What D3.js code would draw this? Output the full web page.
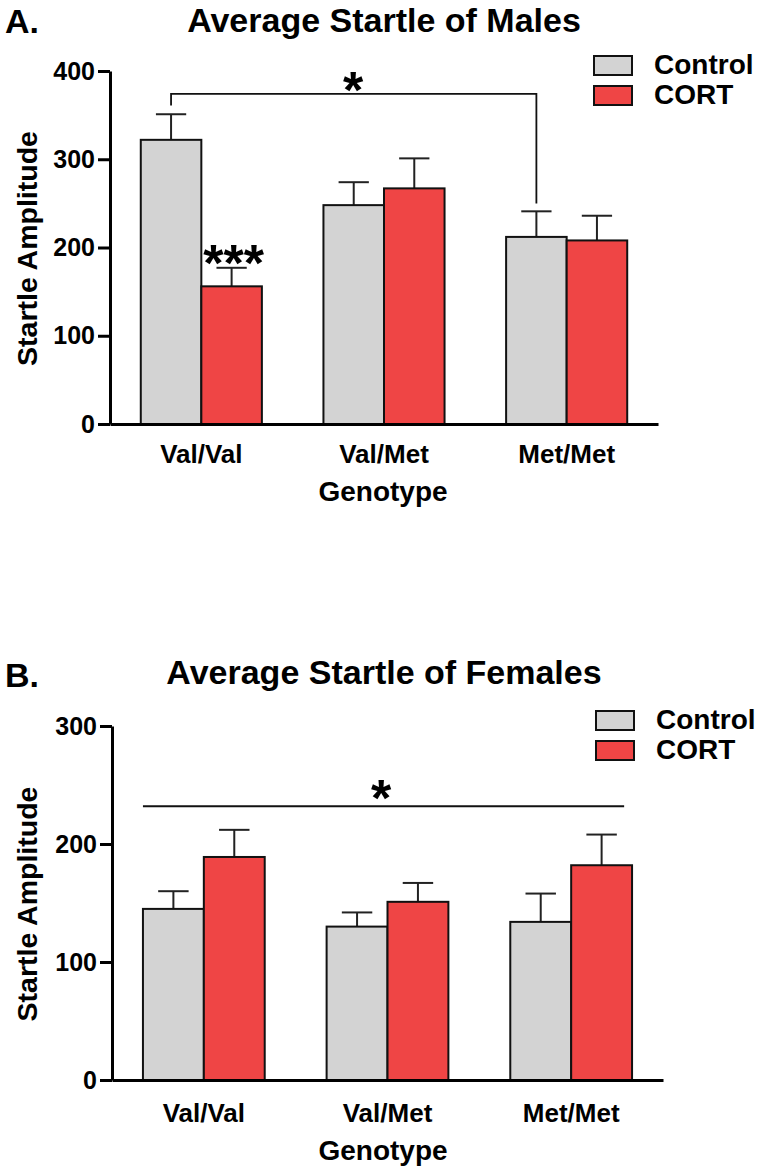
<!DOCTYPE html>
<html>
<head>
<meta charset="utf-8">
<script src="https://cdn.jsdelivr.net/npm/d3@7/dist/d3.min.js"></script>
<style>
  html, body { margin: 0; padding: 0; background: #fff; }
  svg { display: block; }
  text { font-family: "Liberation Sans", Arial, Helvetica, sans-serif; font-weight: bold; fill: #000; }
</style>
</head>
<body>
<svg id="chart" width="760" height="1168"></svg>
<script>
// ---------- data ----------
const genotypes = ["Val/Val", "Val/Met", "Met/Met"];
const groups = ["Control", "CORT"];
const groupColors = ["#d3d3d3", "#ef4545"];

const malesControl = [322, 248, 212];
const malesControlSem = [29, 26, 29];
const malesCort = [156, 267, 208];
const malesCortSem = [21, 34, 28];

const femalesControl = [145, 130, 134];
const femalesControlSem = [15, 12, 24];
const femalesCort = [189, 151, 182];
const femalesCortSem = [23, 16, 26];

const malesTicks = [0, 100, 200, 300, 400];
const femalesTicks = [0, 100, 200, 300];

// significance annotations (data units)
const malesBracket = { y: 374, leftEnd: 361, rightEnd: 250, from: "Val/Val", to: "Met/Met" };
const femalesLine = { y: 232 };

// ---------- drawing ----------
const svg = d3.select("#chart");
const color = d3.scaleOrdinal().domain(groups).range(groupColors);

function panel(cfg) {
  const g = svg.append("g");
  const x = d3.scaleBand().domain(genotypes).range([cfg.x0, cfg.x1])
    .paddingInner(0.337).paddingOuter(0.1685);
  const xs = d3.scaleBand().domain(groups).range([0, x.bandwidth()]).padding(0);
  const y = d3.scaleLinear().domain(cfg.domain).range([cfg.yBottom, cfg.yTop]);

  // titles
  g.append("text").attr("x", 5).attr("y", cfg.letterY).attr("font-size", 34).text(cfg.letter);
  g.append("text").attr("x", 384).attr("y", cfg.titleY).attr("font-size", 34)
    .attr("text-anchor", "middle").text(cfg.title);

  // bars
  const rows = [];
  genotypes.forEach((gt, i) => {
    rows.push({ gt, grp: "Control", v: cfg.control[i], e: cfg.controlSem[i] });
    rows.push({ gt, grp: "CORT", v: cfg.cort[i], e: cfg.cortSem[i] });
  });
  const cx = d => x(d.gt) + xs(d.grp) + xs.bandwidth() / 2;

  // error bars (upper only)
  g.selectAll(".err").data(rows).join("line")
    .attr("x1", cx).attr("x2", cx)
    .attr("y1", d => y(d.v)).attr("y2", d => y(d.v + d.e))
    .attr("stroke", "#222").attr("stroke-width", 2);
  g.selectAll(".cap").data(rows).join("line")
    .attr("x1", d => cx(d) - xs.bandwidth() / 4).attr("x2", d => cx(d) + xs.bandwidth() / 4)
    .attr("y1", d => y(d.v + d.e)).attr("y2", d => y(d.v + d.e))
    .attr("stroke", "#222").attr("stroke-width", 2);

  g.selectAll(".bar").data(rows).join("rect")
    .attr("x", d => x(d.gt) + xs(d.grp))
    .attr("width", xs.bandwidth())
    .attr("y", d => y(d.v))
    .attr("height", d => y(0) - y(d.v))
    .attr("fill", d => color(d.grp))
    .attr("stroke", "#111").attr("stroke-width", 2);

  // y axis
  const ya = g.append("g").attr("transform", `translate(${cfg.x0},0)`)
    .call(d3.axisLeft(y).tickValues(cfg.ticks).tickSize(12).tickSizeOuter(0).tickPadding(3));
  ya.select(".domain").attr("stroke", "#000").attr("stroke-width", 3);
  ya.selectAll(".tick line").attr("stroke", "#000").attr("stroke-width", 3);
  ya.selectAll(".tick text").attr("font-size", 25)
    .attr("font-family", '"Liberation Sans", Arial, sans-serif').attr("font-weight", "bold").attr("fill", "#000");

  // x axis
  const xa = g.append("g").attr("transform", `translate(0,${cfg.yBottom})`)
    .call(d3.axisBottom(x).tickSize(0).tickPadding(cfg.xPad));
  xa.select(".domain").attr("stroke", "#000").attr("stroke-width", 3);
  xa.selectAll(".tick text").attr("font-size", 26)
    .attr("font-family", '"Liberation Sans", Arial, sans-serif').attr("font-weight", "bold").attr("fill", "#000");

  // axis titles
  g.append("text").attr("x", 383).attr("y", cfg.genotypeY).attr("font-size", 28)
    .attr("text-anchor", "middle").text("Genotype");
  g.append("text")
    .attr("transform", `translate(37,${(cfg.yTop + cfg.yBottom) / 2 + 1}) rotate(-90)`)
    .attr("font-size", 28.5).attr("text-anchor", "middle").text("Startle Amplitude");

  // legend
  groups.forEach((grp, i) => {
    g.append("rect").attr("x", cfg.legX).attr("y", cfg.legY + i * 30)
      .attr("width", 38).attr("height", 19)
      .attr("fill", color(grp)).attr("stroke", "#111").attr("stroke-width", 2);
    g.append("text").attr("x", cfg.legX + 60).attr("y", cfg.legY + i * 30 + 18)
      .attr("font-size", 28).text(grp);
  });

  return { g, x, xs, y };
}

// Panel A: males
const A = panel({
  letter: "A.", letterY: 33, title: "Average Startle of Males", titleY: 32,
  x0: 110, x1: 658, yTop: 71, yBottom: 424, domain: [0, 400], ticks: malesTicks,
  control: malesControl, controlSem: malesControlSem, cort: malesCort, cortSem: malesCortSem,
  xPad: 21, genotypeY: 501, legX: 594, legY: 56
});
{
  const { g, x, xs, y } = A;
  const lx = x(malesBracket.from) + xs("Control") + xs.bandwidth() / 2;
  const rx = x(malesBracket.to) + xs("Control") + xs.bandwidth() / 2;
  g.append("path")
    .attr("d", `M${lx},${y(malesBracket.leftEnd)}V${y(malesBracket.y)}H${rx}V${y(malesBracket.rightEnd)}`)
    .attr("fill", "none").attr("stroke", "#111").attr("stroke-width", 1.8);
  g.append("text").attr("x", (lx + rx) / 2 - 0.5).attr("y", 108).attr("font-size", 52)
    .attr("text-anchor", "middle").text("*");
  const cx = x("Val/Val") + xs("CORT") + xs.bandwidth() / 2;
  g.append("text").attr("x", cx + 2).attr("y", 281).attr("font-size", 52)
    .attr("text-anchor", "middle").text("***");
}

// Panel B: females
const B = panel({
  letter: "B.", letterY: 687, title: "Average Startle of Females", titleY: 684,
  x0: 112, x1: 663, yTop: 726, yBottom: 1080, domain: [0, 300], ticks: femalesTicks,
  control: femalesControl, controlSem: femalesControlSem, cort: femalesCort, cortSem: femalesCortSem,
  xPad: 24, genotypeY: 1160, legX: 596, legY: 711
});
{
  const { g, x, xs, y } = B;
  const lx = x("Val/Val") + xs("Control");
  const rx = x("Met/Met") + xs("CORT") + xs.bandwidth() * 0.87;
  g.append("line").attr("x1", lx).attr("x2", rx)
    .attr("y1", y(femalesLine.y)).attr("y2", y(femalesLine.y))
    .attr("stroke", "#111").attr("stroke-width", 1.8);
  g.append("text").attr("x", 381).attr("y", 816).attr("font-size", 52)
    .attr("text-anchor", "middle").text("*");
}
</script>
</body>
</html>
